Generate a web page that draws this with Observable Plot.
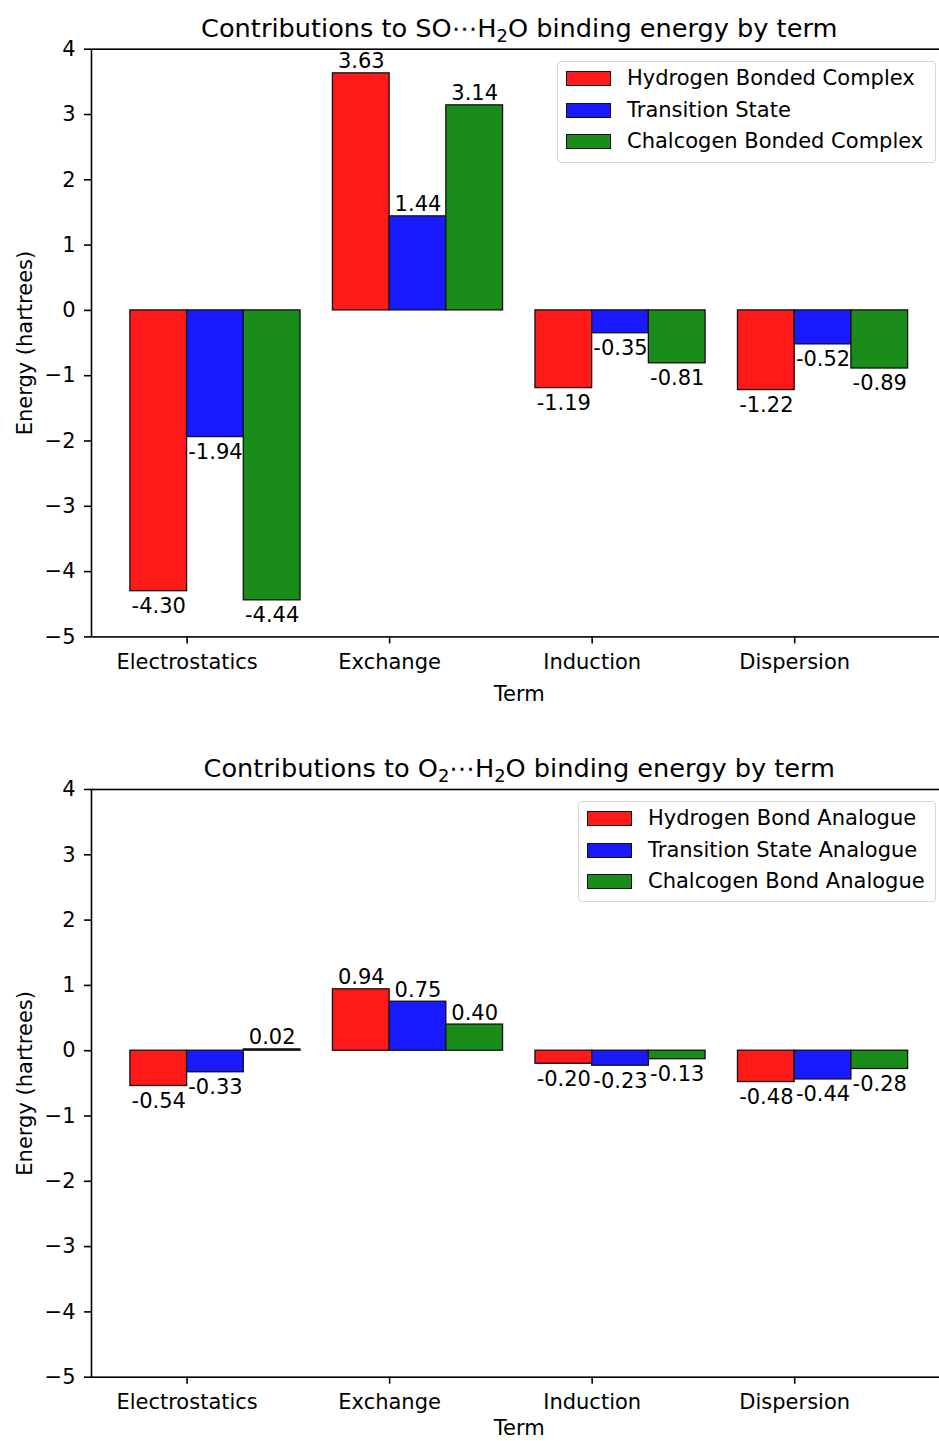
<!DOCTYPE html>
<html><head><meta charset="utf-8">
<script src="https://cdn.jsdelivr.net/npm/d3@7"></script>
<script src="https://cdn.jsdelivr.net/npm/@observablehq/plot@0.6"></script>
<style>
body{margin:0;background:#fff;}
#wrap{position:relative;width:939px;height:1441px;overflow:hidden;font-family:"DejaVu Sans";}
#wrap svg{position:absolute;left:0;}
.legend{position:absolute;background:rgba(255,255,255,0.8);border:1.3px solid #d6d6d6;border-radius:4px;box-sizing:border-box;}
.patch{position:absolute;left:8px;width:45px;height:15px;box-sizing:border-box;border:1.3px solid #111;}
.ltext{position:absolute;left:69px;height:24px;line-height:24px;font-size:21px;color:#000;white-space:nowrap;}
</style></head>
<body><div id="wrap"></div>
<script>
const terms = ["Electrostatics", "Exchange", "Induction", "Dispersion"];
const yTicks = [-5, -4, -3, -2, -1, 0, 1, 2, 3, 4];
const colors = ["#ff1919", "#1919ff", "#198c19"];

// SO···H2O
const soSeries = ["Hydrogen Bonded Complex", "Transition State", "Chalcogen Bonded Complex"];
const soHydrogen = [-4.30, 3.63, -1.19, -1.22];
const soTransition = [-1.94, 1.44, -0.35, -0.52];
const soChalcogen = [-4.44, 3.14, -0.81, -0.89];

// O2···H2O
const o2Series = ["Hydrogen Bond Analogue", "Transition State Analogue", "Chalcogen Bond Analogue"];
const o2Hydrogen = [-0.54, 0.94, -0.20, -0.48];
const o2Transition = [-0.33, 0.75, -0.23, -0.44];
const o2Chalcogen = [0.02, 0.40, -0.13, -0.28];

const barWidth = 0.28;
const FS = 21;
const TFS = 25.6;

function rowsOf(seriesValues) {
  const rows = [];
  seriesValues.forEach((vals, s) => {
    vals.forEach((v, i) => {
      rows.push({i, s, value: v, x1: i + (s - 1) * barWidth, x2: i + s * barWidth});
    });
  });
  return rows;
}

function chart({title, seriesValues, height, marginTop, marginBottom, termDy}) {
  const rows = rowsOf(seriesValues);
  const svg = Plot.plot({
    width: 939,
    height,
    marginLeft: 91,
    marginRight: -7.5,
    marginTop,
    marginBottom,
    style: {fontFamily: "DejaVu Sans", fontSize: FS + "px", color: "#000", background: "#fff", overflow: "hidden"},
    x: {type: "linear", domain: [-0.472, 3.752]},
    y: {domain: [-5, 4]},
    marks: [
      Plot.rect(rows, {x1: "x1", x2: "x2", y1: 0, y2: "value", fill: d => colors[d.s], stroke: "#111", strokeWidth: 1.3}),
      Plot.text(rows.filter(d => d.value >= 0), {x: d => (d.x1 + d.x2) / 2, y: "value", text: d => d.value.toFixed(2), lineAnchor: "bottom", dy: -5, fontSize: FS, fill: "#000"}),
      Plot.text(rows.filter(d => d.value < 0), {x: d => (d.x1 + d.x2) / 2, y: "value", text: d => d.value.toFixed(2), lineAnchor: "top", dy: 7, fontSize: FS, fill: "#000"}),
      Plot.frame({stroke: "#000", strokeWidth: 1.6}),
      Plot.axisX({ticks: [0, 1, 2, 3], tickFormat: i => terms[i], tickSize: 7, tickPadding: 10, strokeWidth: 1.6, label: null, fontSize: FS}),
      Plot.axisY({ticks: yTicks, tickSize: 7, tickPadding: 9, strokeWidth: 1.6, label: null, fontSize: FS}),
      Plot.text([title], {text: d => d, frameAnchor: "top", dy: -12.5, lineAnchor: "bottom", fontSize: TFS, fill: "#000", className: "ctitle"}),
      Plot.text(["Energy (hartrees)"], {text: d => d, frameAnchor: "left", textAnchor: "middle", rotate: -90, dx: -60, lineAnchor: "bottom", fontSize: FS, fill: "#000"}),
      Plot.text(["Term"], {text: d => d, frameAnchor: "bottom", dy: termDy, lineAnchor: "bottom", fontSize: FS, fill: "#000"})
    ]
  });
  // render "_2" as a subscript in the title
  d3.select(svg).selectAll(".ctitle text").each(function () {
    const parts = this.textContent.split("_2");
    const t = d3.select(this);
    t.text(null);
    parts.forEach((p, k) => {
      if (k > 0) {
        t.append("tspan").attr("font-size", TFS * 0.7).attr("dy", 5).text("2");
        t.append("tspan").attr("dy", -5).text(p);
      } else {
        t.append("tspan").text(p);
      }
    });
  });
  return svg;
}

function legend(names, box) {
  const el = document.createElement("div");
  el.className = "legend";
  Object.assign(el.style, {left: box.left + "px", top: box.top + "px", width: box.width + "px", height: box.height + "px"});
  const centers = [16.8, 48.5, 80.3];
  names.forEach((n, k) => {
    const p = document.createElement("div");
    p.className = "patch";
    p.style.top = (centers[k] - 7.5) + "px";
    p.style.background = colors[k];
    el.appendChild(p);
    const t = document.createElement("div");
    t.className = "ltext";
    t.style.top = (centers[k] - 12.5) + "px";
    t.textContent = n;
    el.appendChild(t);
  });
  return el;
}

const wrap = document.getElementById("wrap");
const c1 = chart({title: "Contributions to SO\u22EFH_2O binding energy by term", seriesValues: [soHydrogen, soTransition, soChalcogen], height: 720, marginTop: 48.7, marginBottom: 83.6, termDy: 63.6});
c1.style.top = "0px";
wrap.appendChild(c1);
const c2 = chart({title: "Contributions to O_2\u22EFH_2O binding energy by term", seriesValues: [o2Hydrogen, o2Transition, o2Chalcogen], height: 721, marginTop: 69, marginBottom: 64.3, termDy: 58});
c2.style.top = "720px";
wrap.appendChild(c2);
wrap.appendChild(legend(soSeries, {left: 557, top: 60.7, width: 379, height: 102}));
wrap.appendChild(legend(o2Series, {left: 578, top: 800.7, width: 358, height: 101}));
</script>
</body></html>
